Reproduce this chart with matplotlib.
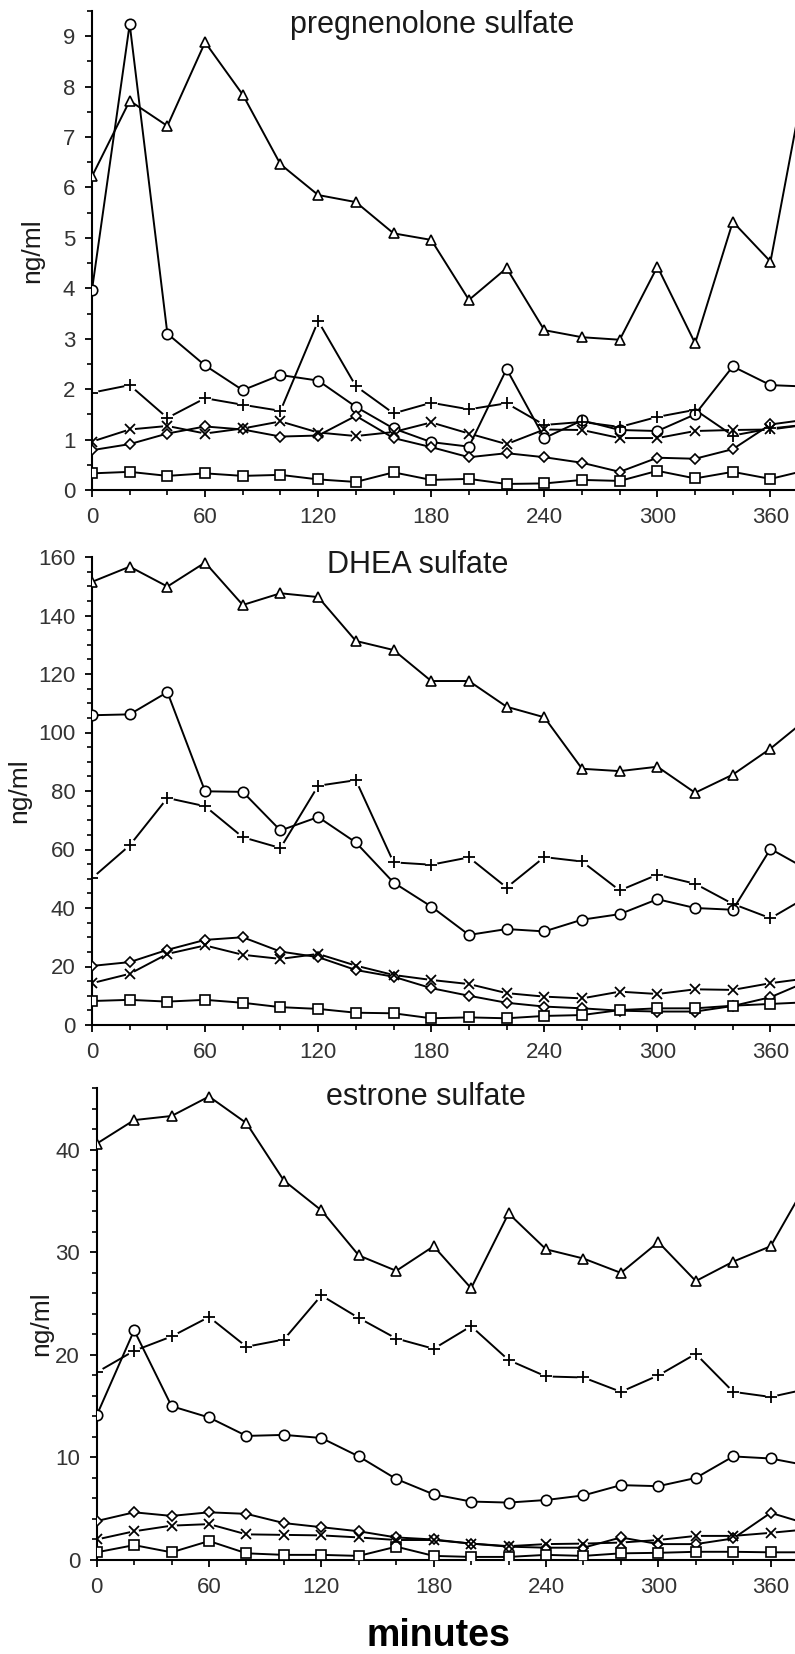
import matplotlib
matplotlib.use("Agg")
import matplotlib.pyplot as plt
from matplotlib.ticker import MultipleLocator

plt.rcParams['font.family'] = ['Liberation Sans', 'DejaVu Sans']

# sampling times (minutes)
minutes = [0, 20, 40, 60, 80, 100, 120, 140, 160, 180, 200, 220, 240, 260,
           280, 300, 320, 340, 360, 380]

# pregnenolone sulfate (ng/ml)
preg_tri = [6.22, 7.72, 7.22, 8.88, 7.84, 6.46, 5.85, 5.71, 5.09, 4.96, 3.77, 4.40,
            3.17, 3.03, 2.98, 4.43, 2.91, 5.32, 4.53, 8.5]
preg_circ = [3.97, 9.24, 3.10, 2.47, 1.98, 2.28, 2.17, 1.65, 1.22, 0.95, 0.86, 2.40,
             1.03, 1.38, 1.19, 1.17, 1.50, 2.45, 2.08, 2.05]
preg_plus = [1.93, 2.08, 1.43, 1.82, 1.69, 1.57, 3.35, 2.06, 1.52, 1.73, 1.60, 1.72,
             1.29, 1.35, 1.25, 1.45, 1.59, 1.08, 1.22, 1.30]
preg_cross = [0.96, 1.20, 1.27, 1.12, 1.22, 1.36, 1.14, 1.07, 1.15, 1.34, 1.12, 0.91,
              1.20, 1.19, 1.03, 1.03, 1.17, 1.19, 1.20, 1.30]
preg_diam = [0.79, 0.91, 1.12, 1.26, 1.20, 1.06, 1.08, 1.47, 1.03, 0.85, 0.65, 0.73,
             0.65, 0.54, 0.36, 0.64, 0.62, 0.81, 1.30, 1.40]
preg_sq = [0.33, 0.36, 0.28, 0.33, 0.28, 0.30, 0.21, 0.16, 0.35, 0.20, 0.22, 0.12,
           0.13, 0.20, 0.18, 0.38, 0.23, 0.36, 0.22, 0.40]

# DHEA sulfate (ng/ml)
dhea_tri = [151.5, 156.7, 149.9, 158.1, 143.6, 147.6, 146.3, 131.3, 128.2, 117.6, 117.6,
            108.8, 105.2, 87.6, 86.8, 88.3, 79.4, 85.6, 94.5, 105.0]
dhea_circ = [105.9, 106.2, 113.8, 79.9, 79.7, 66.5, 71.1, 62.4, 48.7, 40.5, 30.8, 32.8,
             32.0, 36.0, 37.9, 43.0, 40.0, 39.4, 60.2, 53.0]
dhea_plus = [50.2, 61.4, 77.6, 74.8, 64.2, 60.5, 81.8, 83.7, 55.6, 54.8, 57.3, 47.0,
             57.4, 55.9, 46.0, 51.4, 48.3, 41.4, 36.5, 44.0]
dhea_cross = [14.3, 17.5, 24.3, 27.2, 24.0, 22.6, 24.3, 20.3, 17.1, 15.4, 14.0, 10.9,
              9.7, 9.1, 11.4, 10.6, 12.2, 12.0, 14.3, 16.0]
dhea_diam = [20.2, 21.5, 25.7, 29.1, 30.0, 25.1, 23.2, 18.8, 16.5, 12.6, 10.0, 7.6,
             6.3, 5.7, 4.9, 4.6, 4.6, 6.5, 9.5, 15.0]
dhea_sq = [8.2, 8.6, 8.0, 8.6, 7.6, 6.1, 5.5, 4.2, 4.0, 2.3, 2.6, 2.3, 3.1, 3.4, 5.1,
           5.7, 5.7, 6.6, 7.2, 7.8]

# estrone sulfate (ng/ml)
estr_tri = [40.6, 42.9, 43.3, 45.2, 42.6, 37.0, 34.1, 29.7, 28.2, 30.6, 26.5, 33.8,
            30.3, 29.4, 28.0, 31.0, 27.2, 29.1, 30.6, 37.0]
estr_circ = [14.1, 22.4, 15.0, 13.9, 12.1, 12.2, 11.9, 10.1, 7.9, 6.4, 5.7, 5.6, 5.85,
             6.3, 7.3, 7.2, 8.0, 10.1, 9.9, 9.2]
estr_plus = [18.3, 20.4, 21.8, 23.7, 20.8, 21.5, 25.8, 23.6, 21.6, 20.6, 22.8, 19.5,
             17.9, 17.8, 16.4, 18.0, 20.1, 16.4, 15.9, 16.7]
estr_cross = [2.0, 2.8, 3.35, 3.5, 2.5, 2.45, 2.4, 2.2, 1.95, 1.95, 1.6, 1.35, 1.55,
              1.6, 1.7, 1.95, 2.35, 2.35, 2.65, 3.0]
estr_diam = [3.8, 4.65, 4.3, 4.65, 4.5, 3.6, 3.2, 2.8, 2.2, 2.0, 1.6, 1.3, 1.2, 1.2,
             2.2, 1.55, 1.55, 2.1, 4.6, 3.5]
estr_sq = [0.75, 1.45, 0.75, 1.85, 0.65, 0.5, 0.5, 0.4, 1.3, 0.4, 0.3, 0.3, 0.5, 0.4,
           0.65, 0.7, 0.8, 0.8, 0.75, 0.75]

panel_titles = ["pregnenolone sulfate", "DHEA sulfate", "estrone sulfate"]
y_label = "ng/ml"
x_label = "minutes"

W, H = 795, 1654
fig = plt.figure(figsize=(W / 100, H / 100), dpi=100)

LW = 1.4
TICK_COLOR = "#333333"


def frac_x(px):
    return px / W


def frac_y(py):
    return 1 - py / H


def draw_panel(ax, tri, circ, plus, cross, diam, sq):
    common = dict(color="black", lw=LW, mec="black", mfc="white", mew=1.2,
                  clip_on=True)
    # open-symbol series
    ax.plot(minutes, tri, marker="^", ms=7.5, zorder=3, **common)
    ax.plot(minutes, circ, marker="o", ms=7.5, zorder=3, **common)
    ax.plot(minutes, diam, marker="D", ms=5.5, zorder=3, **common)
    ax.plot(minutes, sq, marker="s", ms=6.5, zorder=3, **common)
    # + and x series: line broken around each marker
    for vals, mk, ms, halo in ((plus, "+", 8.5, 9.0), (cross, "x", 6.5, 6.5)):
        ax.plot(minutes, vals, color="black", lw=LW, zorder=2)
        ax.plot(minutes, vals, ls="none", marker="o", ms=halo, mfc="white",
                mec="none", zorder=2.5)
        ax.plot(minutes, vals, ls="none", marker=mk, ms=ms, mec="black",
                mew=1.3, zorder=4)


def style_axes(ax, ymax, ymajor, yminor):
    ax.set_xlim(0, 373)
    ax.set_ylim(0, ymax)
    ax.spines["top"].set_visible(False)
    ax.spines["right"].set_visible(False)
    for s in ("left", "bottom"):
        ax.spines[s].set_linewidth(1.5)
    ax.xaxis.set_major_locator(MultipleLocator(60))
    ax.xaxis.set_minor_locator(MultipleLocator(20))
    ax.yaxis.set_major_locator(MultipleLocator(ymajor))
    ax.yaxis.set_minor_locator(MultipleLocator(yminor))
    ax.tick_params(which="major", direction="out", length=5, width=1.3,
                   labelsize=16, labelcolor=TICK_COLOR, pad=7)
    ax.tick_params(which="minor", direction="out", length=3.5, width=1.2)


# axes rectangles in pixels: (left x, top y, bottom y)
panels = [
    (92, 11, 490, 9.5, 1, 0.5, (preg_tri, preg_circ, preg_plus, preg_cross, preg_diam, preg_sq)),
    (92, 557, 1025, 160, 20, 5, (dhea_tri, dhea_circ, dhea_plus, dhea_cross, dhea_diam, dhea_sq)),
    (96.7, 1088.3, 1560, 46, 10, 2, (estr_tri, estr_circ, estr_plus, estr_cross, estr_diam, estr_sq)),
]

title_pos = [(432, 32.5), (418, 572.7), (426, 1105)]
ylab_x = [32, 19.5, 41]

for i, (lx, ty, by, ymax, ymaj, ymin, series) in enumerate(panels):
    ax = fig.add_axes([frac_x(lx), frac_y(by), 1 - frac_x(lx), (by - ty) / H])
    draw_panel(ax, *series)
    style_axes(ax, ymax, ymaj, ymin)
    tx, ty_ = title_pos[i]
    fig.text(frac_x(tx), frac_y(ty_), panel_titles[i], ha="center", va="baseline",
             fontsize=22, color="#1a1a1a")
    fig.text(frac_x(ylab_x[i]), frac_y((ty + by) / 2), y_label, rotation=90,
             ha="center", va="center", fontsize=19, color="#1a1a1a")

fig.text(frac_x(438), frac_y(1646), x_label, ha="center", va="baseline",
         fontsize=27, fontweight="bold", color="black")

fig.savefig("out.png", dpi=100)
